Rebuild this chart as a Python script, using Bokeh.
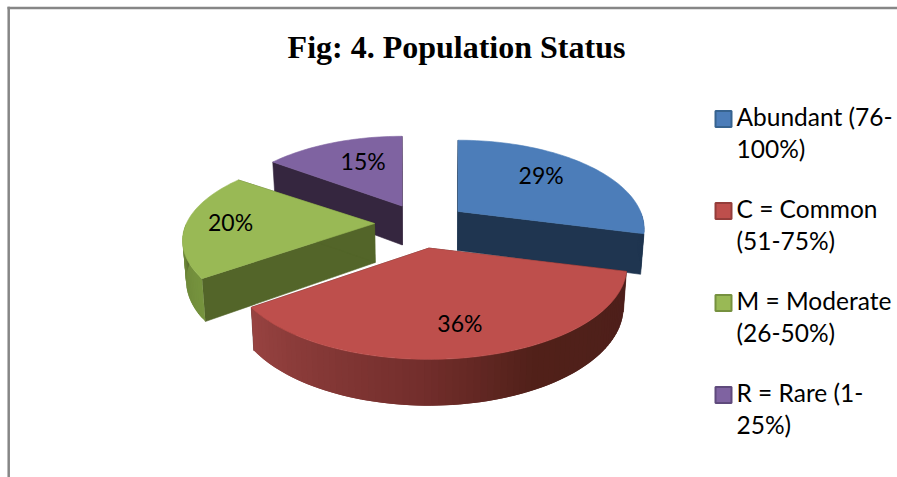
import math
from bokeh.embed import file_html
from bokeh.resources import INLINE
from bokeh.plotting import figure
from bokeh.models import Range1d, ColumnDataSource
from bokeh.core.properties import value

# --- chart data ---
title_text = "Fig: 4. Population Status"
categories = ["Abundant (76-100%)", "C = Common (51-75%)", "M = Moderate (26-50%)", "R = Rare (1-25%)"]
shares = [29, 36, 20, 15]
legend_lines = [["Abundant (76-", "100%)"], ["C = Common", "(51-75%)"], ["M = Moderate", "(26-50%)"], ["R = Rare (1-", "25%)"]]

# --- style ---
top_colors = ["#4C7DB9", "#BE4F4C", "#99B955", "#7F63A1"]
wall_colors = ["#1F3550", "#4F201C", "#536529", "#35263F"]
legend_edge = ["#37638F", "#943D3A", "#76913F", "#5F4A7C"]
label_radius = [0.62, 0.73, 0.76, 0.60]
label_nudge = [(0, -6), (0, 0), (-1, -2), (5, -5)]
rim_x = [0.96, 1.02, 0.99, 0.94]
rim_y = [0.96, 1.0, 0.93, 0.94]
apex_nudge = [(2, 0), (0, 0), (-1, -2), (2, 1)]

# --- 3-D pie projection (page pixels, y downward) ---
CX, CY = 420.0, 225.0
EX, EY = 45.0, 23.0
A, B = 190.0, 89.0
K = 0.2
D = 39.0


def hex2rgb(h):
    return [int(h[i:i + 2], 16) for i in (1, 3, 5)]


def ramp(stops, t):
    for (t0, c0), (t1, c1) in zip(stops, stops[1:]):
        if t <= t1:
            f = (t - t0) / (t1 - t0)
            a, b = hex2rgb(c0), hex2rgb(c1)
            return "#%02x%02x%02x" % tuple(round(a[i] + (b[i] - a[i]) * f) for i in range(3))
    return stops[-1][1]


total = sum(shares)
starts, ends = [], []
acc = 0.0
for s in shares:
    starts.append(acc / total * 2 * math.pi)
    acc += s
    ends.append(acc / total * 2 * math.pi)


def apex(i):
    m = (starts[i] + ends[i]) / 2
    return (CX + EX * math.sin(m) + apex_nudge[i][0],
            CY - EY * math.cos(m) + apex_nudge[i][1])


def pt(i, th, r=1.0, z=0):
    ax, ay = apex(i)
    u, v = r * math.sin(th), -r * math.cos(th)
    s = 1 / (1 - K * v)
    x = ax + u * A * s * rim_x[i]
    y = ay + v * B * s * rim_y[i]
    if z:
        y += D * (1 + 0.75 * (s - 1))
        x = CX + (x - CX) * 0.985
    return x, y


def arc(i, a0, a1, z=0):
    n = max(2, int(abs(a1 - a0) / 0.03))
    return [pt(i, a0 + (a1 - a0) * k / n, 1.0, z) for k in range(n + 1)]


xs, ys, cols, lws = [], [], [], []


def add(poly, col, lw=0.6):
    xs.append([q[0] for q in poly])
    ys.append([q[1] for q in poly])
    cols.append(col)
    lws.append(lw)


red_ramp = [(0, "#984341"), (0.4, "#732E2C"), (0.62, "#512019"), (1, "#4D1F1B")]
green_ramp = [(0, "#536529"), (0.2, "#6A8437"), (1, "#76933E")]
blue_ramp = [(0, "#1F3550"), (1, "#1F3550")]
ramps = [blue_ramp, red_ramp, green_ramp, None]

for i in [3, 2, 0, 1]:
    a0, a1 = starts[i], ends[i]
    # cut walls
    for th in (a0, a1):
        add([pt(i, th, 0.0), pt(i, th), pt(i, th, 1.0, 1), pt(i, th, 0.0, 1)], wall_colors[i])
    # outer rim wall, front part only; each strip overlaps the next so no seams show
    lo, hi = max(a0, math.pi / 2), min(a1, 1.5 * math.pi)
    if hi > lo and ramps[i]:
        n = int((hi - lo) / 0.03) + 1
        step = (hi - lo) / n
        for k in range(n):
            b0 = lo + step * k
            b1 = min(hi, b0 + 2 * step)
            add([pt(i, b0), pt(i, b1), pt(i, b1, 1.0, 1), pt(i, b0, 1.0, 1)],
                ramp(ramps[i], 1 - (k + 0.5) / n), 0)
    # top face
    add([pt(i, a0, 0.0)] + arc(i, a0, a1), top_colors[i])

p = figure(width=897, height=477, x_range=Range1d(0, 897), y_range=Range1d(477, 0),
           output_backend="svg", toolbar_location=None, min_border=0,
           background_fill_color="white", border_fill_color="white", outline_line_color=None)
p.axis.visible = False
p.grid.visible = False

# chart border
p.line([8.2, 8.2], [6.2, 477], line_color="#868686", line_width=2.5)
p.line([7, 897], [7.4, 7.4], line_color="#868686", line_width=2.5)

p.patches("x", "y", source=ColumnDataSource(dict(x=xs, y=ys, c=cols, w=lws)),
          fill_color="c", line_color="c", line_width="w")

# data labels
lx, ly, lt = [], [], []
for i, s in enumerate(shares):
    q = pt(i, (starts[i] + ends[i]) / 2, label_radius[i])
    lx.append(q[0] + label_nudge[i][0]); ly.append(q[1] + label_nudge[i][1])
    lt.append(f"{round(s / total * 100)}%")
p.text(lx, ly, lt, text_font=value("Lato"), text_font_size="23px", text_color="black",
       text_align="center", text_baseline="middle")

# title
p.text([456], [46], [title_text], text_font=value("Liberation Serif"), text_font_style="bold",
       text_font_size="32px", text_color="black", text_align="center", text_baseline="middle")

# legend
LEG_TOP, LEG_STEP, LINE_H = 118.5, 92.0, 32.0
for i, cat in enumerate(categories):
    y0 = LEG_TOP + i * LEG_STEP
    p.rect([723], [y0], width=16, height=16, fill_color=top_colors[i], line_color=legend_edge[i], line_width=2)
    for j, t in enumerate(legend_lines[i]):
        p.text([736], [y0 - 2.5 + j * LINE_H], [t], text_font=value("Lato"), text_font_size="24.5px",
               text_color="black", text_align="left", text_baseline="middle")

open("out.html", "w").write(file_html(p, INLINE))
